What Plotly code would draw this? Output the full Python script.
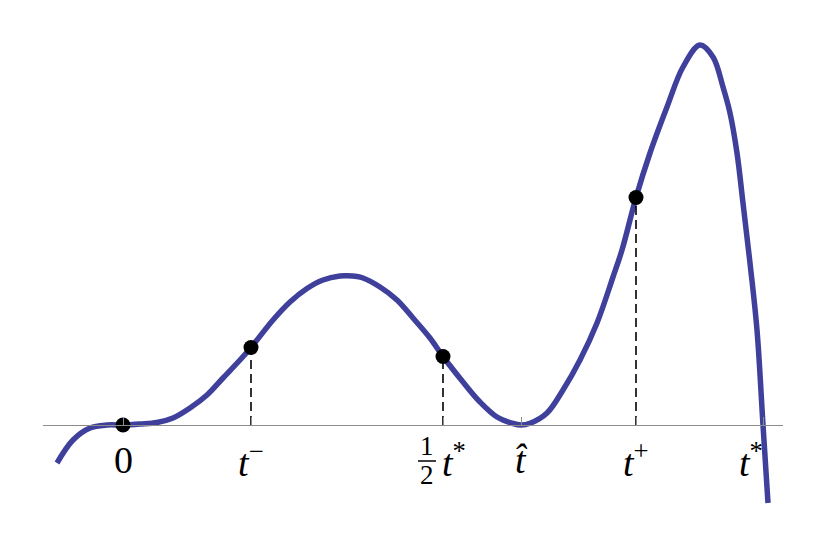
import plotly.graph_objects as go

# curve samples
curve_x = [-0.66, -0.50, -0.33, -0.16, 0.00, 0.17, 0.34, 0.50, 0.67, 0.84, 1.00, 1.17, 1.28,
           1.50, 1.67, 1.84, 2.00, 2.17, 2.24, 2.34, 2.40, 2.57, 2.74, 2.90, 3.07, 3.20,
           3.40, 3.57, 3.74, 3.90, 3.98, 4.07, 4.24, 4.40, 4.57, 4.74, 4.90, 4.99, 5.13,
           5.27, 5.44, 5.60, 5.77, 5.90, 6.00, 6.07, 6.14, 6.20, 6.27, 6.34, 6.40, 6.45]
curve_y = [-0.38, -0.15, -0.03, 0.00, 0.00, 0.01, 0.025, 0.07, 0.17, 0.30, 0.47, 0.65, 0.775,
           1.05, 1.23, 1.365, 1.45, 1.49, 1.492, 1.485, 1.47, 1.38, 1.25, 1.07, 0.87, 0.685,
           0.43, 0.23, 0.08, 0.015, 0.00, 0.017, 0.12, 0.35, 0.65, 1.02, 1.48, 1.75, 2.275,
           2.72, 3.18, 3.58, 3.80, 3.68, 3.38, 3.12, 2.72, 2.22, 1.62, 0.95, 0.00, -0.78]

# marked points
dot_x = [0.00, 1.28, 3.20, 5.13]
dot_y = [0.00, 0.775, 0.685, 2.275]
dash_idx = [1, 2, 3]

# tick positions
tick_vals = [0.00, 1.28, 3.20, 3.98, 5.13, 6.40]

CURVE = "#3f3f9c"
FONT = "Liberation Serif"

fig = go.Figure()

fig.add_trace(go.Scatter(x=curve_x, y=curve_y, mode="lines",
                         line=dict(color=CURVE, width=5.5, shape="spline", smoothing=1.0),
                         hoverinfo="skip", showlegend=False))

for i in dash_idx:
    fig.add_trace(go.Scatter(x=[dot_x[i], dot_x[i]], y=[0, dot_y[i]], mode="lines",
                             line=dict(color="black", width=1.6, dash="9px,5px"),
                             showlegend=False, hoverinfo="skip"))

fig.add_trace(go.Scatter(x=dot_x, y=dot_y, mode="markers",
                         marker=dict(color="black", size=15),
                         showlegend=False, hoverinfo="skip"))

lab_font = dict(family=FONT, size=38, color="black")
frac_font = dict(family=FONT, size=27, color="black")
ann = []
ann.append(dict(x=tick_vals[0], y=0, text="0", xanchor="center", yanchor="middle", yshift=-35))
ann.append(dict(x=tick_vals[1], y=0, text="<i>t</i><sup>−</sup>", xanchor="center", yanchor="middle", yshift=-35))
ann.append(dict(x=tick_vals[2], y=0, text="<i>t</i><sup>*</sup>", xanchor="left", yanchor="middle", yshift=-35, xshift=-3))
ann.append(dict(x=tick_vals[2], y=0, text="1", xanchor="center", yanchor="middle", yshift=-21, xshift=-16,
                font=frac_font))
ann.append(dict(x=tick_vals[2], y=0, text="2", xanchor="center", yanchor="middle", yshift=-50, xshift=-16,
                font=frac_font))
ann.append(dict(x=tick_vals[3], y=0, text="<i>t\u0302</i>", xanchor="center", yanchor="middle", yshift=-35))
ann.append(dict(x=tick_vals[4], y=0, text="<i>t</i><sup>+</sup>", xanchor="center", yanchor="middle", yshift=-35))
ann.append(dict(x=tick_vals[5], y=0, text="<i>t</i><sup>*</sup>", xanchor="center", yanchor="middle", yshift=-35, xshift=-12))
for a in ann:
    a.setdefault("font", lab_font)
    a.update(xref="x", yref="y", showarrow=False)

# the page adds an 8px body margin, so the figure is laid out 8px up/left
fig.update_layout(
    width=828, height=546,
    margin=dict(l=0, r=0, t=0, b=0),
    paper_bgcolor="white", plot_bgcolor="white",
    annotations=ann,
    shapes=[dict(type="line", xref="x", yref="y", xsizemode="pixel", ysizemode="pixel",
                 xanchor=tick_vals[2], yanchor=0, x0=-25, x1=-7, y0=-36, y1=-36,
                 line=dict(color="black", width=1.5))],
    xaxis=dict(range=[-0.80, 6.60], domain=[35 / 828, 775 / 828], anchor="free",
               position=1 - 417 / 546, showgrid=False, zeroline=False,
               showline=True, linecolor="#8c8c8c", linewidth=1.3,
               ticks="inside", ticklen=8, tickcolor="#8c8c8c", tickwidth=1,
               tickvals=tick_vals, showticklabels=False),
    yaxis=dict(range=[-1.29, 4.17], showgrid=False, zeroline=False, showline=False,
               showticklabels=False, ticks=""),
)

fig.write_html("out.html")
